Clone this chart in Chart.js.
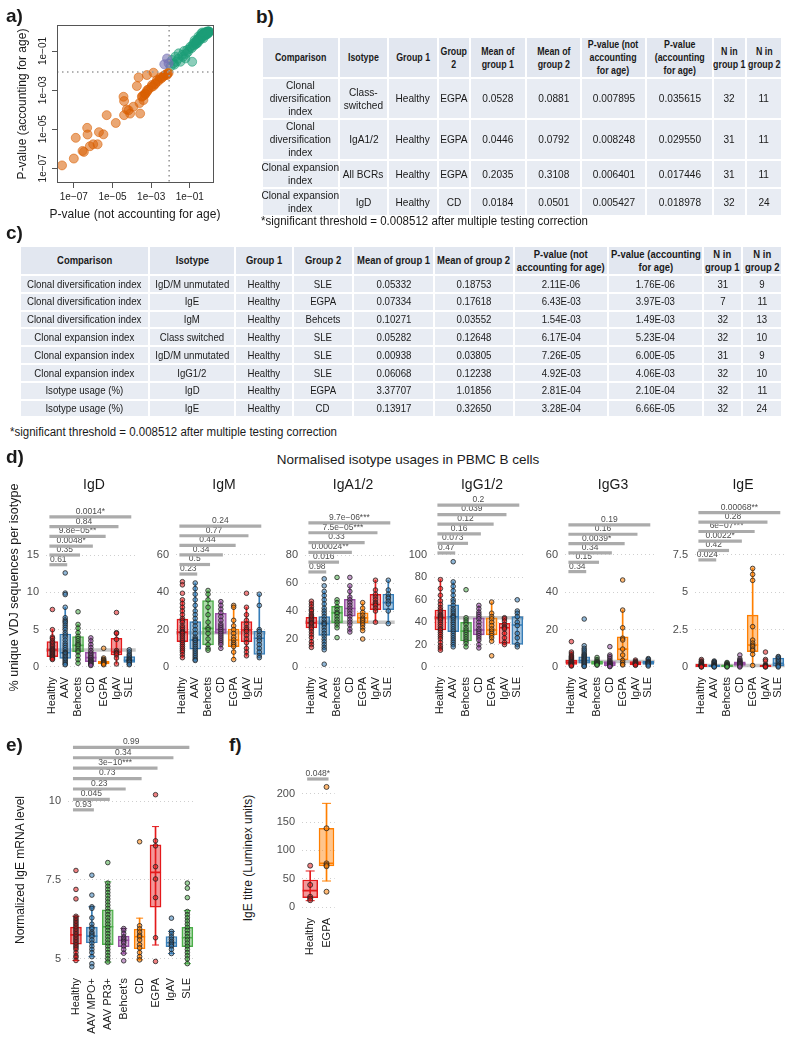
<!DOCTYPE html>
<html lang="en">
<head>
<meta charset="UTF-8">
<title>P-value comparison and isotype usage</title>
<script src="https://cdn.jsdelivr.net/npm/chart.js@4.4.1/dist/chart.umd.min.js"></script>
<style>
  body { margin: 0; background: #fff; }
  #page { position: relative; width: 800px; height: 1059px; overflow: hidden; font-family: "Liberation Sans", Arial, sans-serif; color: #1a1a1a; }
  #page canvas { position: absolute; }
  .lbl { position: absolute; white-space: nowrap; line-height: 1; }
  .panel { font-weight: bold; font-size: 19px; }
  .vt { position: absolute; white-space: nowrap; text-align: center; transform: rotate(-90deg); }
  table.t { position: absolute; border-collapse: collapse; table-layout: fixed; font-family: "Liberation Sans", Arial, sans-serif; color: #1a1a1a; }
  table.t th, table.t td { background: #e8ecf3; border: 2px solid #fff; padding: 0; text-align: center; font-weight: normal; overflow: visible; }
  table.t th { background: #e2e7f0; font-weight: bold; }
  .cell { display: flex; justify-content: center; align-items: center; width: 100%; }
  .cell span { display: block; white-space: pre; text-align: center; }
  .note { position: absolute; white-space: nowrap; font-size: 12.5px; transform: scaleX(0.92); transform-origin: 0 50%; }
</style>
</head>
<body>
<div id="page"></div>
<script>
// ---------- data: panel a (log10 of p-values) ----------
const orangeX = [-7.61,-7.0,-6.9,-6.55,-6.48,-6.31,-6.29,-6.17,-6.0,-5.77,-5.7,-5.47,-5.3,-4.83,-4.43,-4.4,-4.4,-4.26,-4.17,-4.09,-3.92,-3.74,-3.65,-3.6,-3.57,-3.48,-3.4,-3.36,-3.31,-3.22,-3.22,-3.14,-2.96,-2.88,-2.79,-2.7,-2.53,-2.36,-2.18,
  -3.45,-3.3,-3.2,-3.0,-2.9,-2.8,-2.65,-2.55,-2.45,-2.3,-2.25,-2.15,-2.1];
const orangeY = [-6.85,-6.5,-5.44,-6.11,-6.16,-4.93,-5.27,-5.87,-5.77,-5.77,-5.15,-5.26,-4.28,-4.68,-3.34,-3.56,-4.28,-3.99,-4.03,-4.2,-3.85,-2.79,-2.35,-3.66,-4.2,-3.34,-3.51,-3.26,-3.17,-3.09,-2.23,-2.97,-2.74,-2.11,-2.66,-2.49,-2.35,-2.28,-2.23,
  -3.3,-3.2,-3.0,-2.85,-2.8,-2.7,-2.55,-2.45,-2.38,-2.25,-2.2,-2.15,-2.12];
const purpleX = [-2.18,-2.32,-2.1];
const purpleY = [-1.38,-1.68,-1.63];
const greenX = [-2.0,-1.92,-1.84,-1.75,-1.7,-1.58,-1.49,-1.4,-1.35,-1.23,-1.14,-1.1,-1.02,-0.97,-0.88,-0.9,-0.85,-0.8,-0.78,-0.72,-0.7,-0.65,-0.62,-0.6,-0.56,-0.52,-0.5,-0.48,-0.45,-0.44,-0.4,-0.38,-0.35,-0.33,-0.3,-0.28,-0.27,-0.25,-0.22,-0.2,-0.18,-0.15,-0.13,-0.1,-0.08,-0.06,-0.04,-0.02,0,-0.3,-0.55,-0.4,-0.2,-0.12,-0.65,-0.75,-1.3,-1.2,-1.6,-1.8,-0.05,-0.02,-0.1,-0.35];
const greenY = [-1.8,-1.46,-1.63,-1.29,-1.55,-1.12,-1.55,-1.2,-1.3,-1.38,-0.95,-1.05,-0.9,-0.78,-1.55,-0.85,-0.7,-0.6,-0.72,-0.55,-0.65,-0.5,-0.44,-0.58,-0.4,-0.35,-0.45,-0.3,-0.26,-0.38,-0.22,-0.3,-0.18,-0.25,-0.12,-0.09,-0.2,-0.15,-0.08,-0.05,-0.12,-0.03,-0.07,0,-0.04,-0.02,0,-0.01,0,-0.35,-0.25,-0.1,-0.2,-0.15,-0.62,-0.45,-1.0,-1.15,-1.4,-1.7,-0.1,-0.05,-0.1,-0.05];
const pThreshold = 0.008512;
const aTicks = [1e-7, 1e-5, 1e-3, 1e-1];
const aTickLabels = ['1e\u221207', '1e\u221205', '1e\u221203', '1e\u221201'];

// ---------- data: tables ----------
const tableBHead = ['Comparison','Isotype','Group 1','Group\n2','Mean of\ngroup 1','Mean of\ngroup 2','P-value (not\naccounting\nfor age)','P-value\n(accounting\nfor age)','N in\ngroup 1','N in\ngroup 2'];
const tableBRows = [
  ['Clonal\ndiversification\nindex','Class-\nswitched','Healthy','EGPA','0.0528','0.0881','0.007895','0.035615','32','11'],
  ['Clonal\ndiversification\nindex','IgA1/2','Healthy','EGPA','0.0446','0.0792','0.008248','0.029550','31','11'],
  ['Clonal expansion\nindex','All BCRs','Healthy','EGPA','0.2035','0.3108','0.006401','0.017446','31','11'],
  ['Clonal expansion\nindex','IgD','Healthy','CD','0.0184','0.0501','0.005427','0.018978','32','24']
];
const tableCHead = ['Comparison','Isotype','Group 1','Group 2','Mean of group 1','Mean of group 2','P-value (not\naccounting for age)','P-value (accounting\nfor age)','N in\ngroup 1','N in\ngroup 2'];
const tableCRows = [
  ['Clonal diversification index','IgD/M unmutated','Healthy','SLE','0.05332','0.18753','2.11E-06','1.76E-06','31','9'],
  ['Clonal diversification index','IgE','Healthy','EGPA','0.07334','0.17618','6.43E-03','3.97E-03','7','11'],
  ['Clonal diversification index','IgM','Healthy','Behcets','0.10271','0.03552','1.54E-03','1.49E-03','32','13'],
  ['Clonal expansion index','Class switched','Healthy','SLE','0.05282','0.12648','6.17E-04','5.23E-04','32','10'],
  ['Clonal expansion index','IgD/M unmutated','Healthy','SLE','0.00938','0.03805','7.26E-05','6.00E-05','31','9'],
  ['Clonal expansion index','IgG1/2','Healthy','SLE','0.06068','0.12238','4.92E-03','4.06E-03','32','10'],
  ['Isotype usage (%)','IgD','Healthy','EGPA','3.37707','1.01856','2.81E-04','2.10E-04','32','11'],
  ['Isotype usage (%)','IgE','Healthy','CD','0.13917','0.32650','3.28E-04','6.66E-05','32','24']
];
const noteText = '*significant threshold = 0.008512 after multiple testing correction';

// ---------- data: panel d (stats = [whisker low, q1, median, q3, whisker high]) ----------
const isoGroups = ['Healthy','AAV','Behcets','CD','EGPA','IgAV','SLE'];
const isoTitles = ['IgD','IgM','IgA1/2','IgG1/2','IgG3','IgE'];
const isoRef = [2.27, 18.4, 32, 44, 2.9, 0.1];

const igdStats = [[1.0,1.38,2.27,3.39,5.0],[0.3,1.16,1.9,4.42,8.0],[0.5,2.06,2.9,4.06,5.7],[0.2,0.71,1.25,1.96,3.9],[0.3,0.4,0.6,0.8,1.2],[0.4,1.6,2.0,3.84,4.6],[0.2,0.6,0.9,1.38,2.3]];
const igdPoints = [
  [7.7,5.0,4.0,3.8,3.5,3.3,3.1,2.9,2.7,2.5,2.4,2.3,2.2,2.1,2.0,1.9,1.8,1.7,1.6,1.5,1.4,1.3,1.2,1.1,1.0],
  [12.6,9.9,9.7,8.0,6.6,6.3,6.1,5.9,5.6,5.3,5.0,4.6,4.3,4.0,3.6,3.2,2.9,2.6,2.3,2.0,1.9,1.8,1.6,1.4,1.2,1.0,0.8,0.6,0.4,0.3],
  [7.4,5.7,5.2,4.6,4.1,3.8,3.5,3.2,3.0,2.8,2.5,2.2,2.0,1.5,1.0,0.5],
  [3.9,3.5,3.0,2.6,2.2,1.9,1.7,1.5,1.3,1.2,1.0,0.9,0.8,0.7,0.6,0.5,0.4,0.3,0.2],
  [2.5,1.2,1.0,0.9,0.8,0.7,0.6,0.55,0.5,0.4,0.3],
  [7.3,4.6,4.5,3.7,2.2,2.0,1.9,1.8,1.6,1.2,0.4],
  [2.3,2.0,1.7,1.5,1.3,1.1,1.0,0.9,0.8,0.7,0.6,0.4,0.3]
];
const igdSig = ['0.61','0.35','0.0048*','9.8e\u221205**','0.84','0.0014*'];

const igmStats = [[5,13.6,18.6,25.7,36],[3.5,9.6,14.5,24.3,45],[9,11.8,20.7,35.6,41],[10,18,20,28.7,35],[4,10.9,14.5,20.3,33],[6,13.6,19.8,24.3,32],[5,6.8,15.4,19.3,39]];
const igmPoints = [
  [45.7,44,39.5,36,34,32,30,28,26,25,24,22,21,20,19,18.5,18,17,16,15,14,13,12,11,10,9,8,6.5,5],
  [45,42,39,36,33,30,28,26,24,22,20,18,16,15,14.5,14,13,12,11,10,9,8,7,6,5,4,3.5],
  [41,39,36,32,28,24,21,20,18,15,12,10,9],
  [35,33,31,29,27,25,23,22,21,20,19,18,17,16,15,14,13,12,10],
  [33,32,25,22,20,18,16,14.5,13,12,11,8,4],
  [39.5,32,28,25,23,21,20,19,17,15,13,10,8,6],
  [39,33,20,19,17,15.5,14,12,10,8,6,5]
];
const igmSig = ['0.23','0.5','0.34','0.44','0.77','0.24'];

const igaStats = [[16,27.9,31.5,35.5,47],[12.3,22.6,31,36,54],[28,31.5,38.7,43.4,48],[25,36.3,41.8,48.3,58],[26,31.5,35.1,38.7,46],[32,41,44.7,51.9,62],[31,41,46,52,62]];
const igaPoints = [
  [47,45,43,41,40,38,37,36,35,34,33,32,31.5,31,30,29,28,27,25,23,21,18,16,14],
  [63,58,54,51,48,45,42,40,38,36,34,32,31,30,28,26,24,22,20,18,16,14,12.3,2],
  [64,48,46,43,41,39,38,36,34,32,30,28,21],
  [64,58,54,50,48,46,44,42,40,38,36,34,32,30,27,25],
  [46,42,39,37,35,34,33,31.5,30,28,26,20],
  [62,55,52,50,48,46,45,44,42,40,32],
  [62,55,52,50,49,47,45,40,31]
];
const igaSig = ['0.98','0.016','0.00024**','0.33','7.5e\u221205***','9.7e\u221206***'];

const iggStats = [[15,33,44,50.9,78],[18,31.5,44.9,55.4,76],[18,23.2,32,39.9,44],[17,28.6,33,44,55],[23,28.6,33,44,58],[20,21,35,38.9,44],[18,20.2,37.5,45,50]];
const iggPoints = [
  [78,70,64,59,56,53,51,49,47,46,45,44,43,42,40,38,36,34,33,31,29,27,25,22,19,17,15],
  [94,76,72,68,64,60,58,55,52,50,48,46,45,44,42,40,38,36,34,32,30,28,26,24,22,20,18],
  [69,44,42,40,38,35,33,31,29,27,25,23,21,18],
  [55,52,49,47,45,43,40,37,34,32,30,28,26,24,20,17],
  [58,48,45,43,40,37,34,32,30,28,26,23,10],
  [44,43,41,38,36,35,34,30,26,22,20],
  [60,50,48,45,40,37,30,26,20,18]
];
const iggSig = ['0.47','0.073','0.16','0.12','0.039','0.2'];

const igg3Stats = [[0.5,1.43,2.5,3.75,8],[0.3,2,3.5,5.5,10],[1.0,1.4,2.1,3.2,5.1],[0.2,0.7,1.8,2.9,6.4],[1.1,3.75,9.6,16.2,30.5],[0.9,1.1,2,2.9,3.75],[0.5,1.4,2.3,3.2,4.6]];
const igg3Points = [
  [13.6,8,7,6,5.5,5,4.5,4,3.5,3,2.8,2.5,2.2,2,1.8,1.5,1.2,1,0.8,0.5],
  [25.7,11.4,10,9,8,7,6.5,6,5.5,5,4.5,4,3.5,3,2.5,2,1.5,1,0.5,0.3],
  [5.1,4,3.2,2.8,2.4,2.1,1.8,1.5,1.2,1.0],
  [10.9,6.4,5.5,4.5,3.5,2.9,2.4,2,1.8,1.5,1.2,0.9,0.7,0.4,0.2],
  [46.6,30.5,21,15.4,14.5,9.6,6.4,3.5,2.5,1.5,1.1],
  [3.7,3,2.5,2.2,2,1.8,1.5,1.2,0.9],
  [4.5,4,3.2,2.8,2.5,2.3,2,1.7,1.4,1,0.5]
];
const igg3Sig = ['0.34','0.15','0.34','0.0039*','0.16','0.19'];

const igeStats = [[0,0.02,0.1,0.2,0.4],[0,0.03,0.08,0.15,0.3],[0,0.03,0.08,0.15,0.3],[0,0.1,0.22,0.35,0.55],[0.1,1.03,1.47,3.48,6.6],[0,0.02,0.08,0.12,0.15],[0,0.07,0.25,0.6,0.7]];
const igePoints = [
  [0.5,0.4,0.35,0.3,0.25,0.2,0.18,0.15,0.12,0.1,0.1,0.08,0.06,0.05,0.03,0.02,0],
  [0.4,0.35,0.3,0.25,0.2,0.15,0.12,0.1,0.08,0.06,0.04,0.02,0],
  [0.3,0.25,0.2,0.15,0.12,0.1,0.08,0.05,0.03,0],
  [0.8,0.55,0.45,0.4,0.35,0.3,0.25,0.22,0.2,0.15,0.1,0.05,0],
  [6.6,6.2,5.8,2.7,1.8,1.6,1.45,1.35,1.2,1.1,0.85,0.1],
  [1.0,0.5,0.4,0.15,0.1,0.08,0.05,0.02,0],
  [0.7,0.65,0.55,0.45,0.35,0.25,0.15,0.1,0.05,0]
];
const igeSig = ['0.024','0.42','0.0022*','6e\u221207***','0.28','0.00068**'];

const isoTicks = [[0,5,10,15],[0,20,40,60],[0,20,40,60,80],[0,20,40,60,80,100],[0,20,40,60],[0,2.5,5,7.5]];
const isoTickLabels = [['0','5','10','15'],['0','20','40','60'],['0','20','40','60','80'],['0','20','40','60','80','100'],['0','20','40','60'],['0','2.5','5','7.5']];

// ---------- data: panel e ----------
const mrnaGroups = ['Healthy','AAV MPO+','AAV PR3+',"Behcet's",'CD','EGPA','IgAV','SLE'];
const mrnaStats = [[4.95,5.47,5.76,6.01,6.35],[5.07,5.51,5.72,6.01,6.65],[4.9,5.45,6.02,6.55,7.44],[5.18,5.39,5.59,5.72,5.96],[4.97,5.32,5.7,5.94,6.29],[5.44,6.64,7.74,8.61,9.19],[5.17,5.39,5.51,5.71,5.87],[4.85,5.39,5.67,6.0,6.53]];
const mrnaPoints = [
  [7.8,7.2,6.9,6.35,6.3,6.25,6.2,6.15,6.1,6.05,6.0,5.95,5.9,5.85,5.8,5.75,5.7,5.65,5.6,5.55,5.5,5.45,5.4,5.35,5.3,5.2,5.1,5.05,4.95],
  [7.65,7.02,6.65,6.6,6.3,6.1,6.0,5.95,5.85,5.8,5.75,5.7,5.6,5.5,5.4,5.3,5.2,5.07,4.85,4.75],
  [8.05,7.4,7.3,7.2,7.1,7.0,6.9,6.8,6.7,6.6,6.5,6.4,6.3,6.2,6.1,6.0,5.9,5.8,5.7,5.6,5.5,5.4,5.3,5.2,5.1,5.0,4.9],
  [5.96,5.9,5.8,5.7,5.65,5.6,5.55,5.5,5.4,5.3,5.18,4.94],
  [8.71,6.05,5.95,5.85,5.75,5.7,5.6,5.45,5.35,5.2,5.07,4.97],
  [10.2,8.74,8.58,7.92,7.53,6.94,5.67,4.92],
  [6.29,5.87,5.8,5.7,5.62,5.55,5.5,5.45,5.4,5.3,5.17],
  [7.4,7.24,6.94,6.5,6.4,6.3,6.2,6.1,6.0,5.9,5.8,5.7,5.6,5.5,5.4,5.3,5.2,5.1,5.0,4.85]
];
const mrnaSig = ['0.93','0.045','0.23','0.73','3e\u221210***','0.34','0.99'];
const mrnaTicks = [5, 7.5, 10];
const mrnaTickLabels = ['5', '7.5', '10'];

// ---------- data: panel f ----------
const titreGroups = ['Healthy','EGPA'];
const titreStats = [[11.2,16.5,28.9,47.7,63.6],[45.9,72.4,77.2,139,183]];
const titrePoints = [[73,39,18,15,12],[212,139,77,74,72,27]];
const titreSig = ['0.048*'];
const titreTicks = [0,50,100,150,200];
const titreTickLabels = ['0','50','100','150','200'];

// ---------- colours ----------
const set1 = ['#e41a1c','#377eb8','#4daf4a','#984ea3','#ff7f00'];
const dark2 = { orange: '217,95,2', purple: '117,112,179', green: '27,158,119' };

// ---------- helpers ----------
const page = document.getElementById('page');
const F = '"Liberation Sans", Arial, sans-serif';
Chart.defaults.font.family = F;

function rgba(hex, a) {
  const n = parseInt(hex.slice(1), 16);
  return `rgba(${n >> 16},${(n >> 8) & 255},${n & 255},${a})`;
}
function text(txt, left, top, size, cls) {
  const d = document.createElement('div');
  d.className = 'lbl ' + (cls || '');
  d.textContent = txt;
  d.style.left = left + 'px';
  d.style.top = top + 'px';
  if (size) d.style.fontSize = size + 'px';
  page.appendChild(d);
  return d;
}
function ctext(txt, cx, top, size) {
  const d = text(txt, cx - 200, top, size);
  d.style.width = '400px';
  d.style.textAlign = 'center';
}
function vtext(txt, cx, cy, size) {
  const d = document.createElement('div');
  d.className = 'vt';
  d.textContent = txt;
  d.style.fontSize = size + 'px';
  d.style.width = '320px';
  d.style.height = Math.round(size * 1.2) + 'px';
  d.style.lineHeight = Math.round(size * 1.2) + 'px';
  d.style.left = (cx - 160) + 'px';
  d.style.top = (cy - size * 0.6) + 'px';
  page.appendChild(d);
}
function note(left, top) {
  const d = document.createElement('div');
  d.className = 'note';
  d.textContent = noteText;
  d.style.left = left + 'px';
  d.style.top = top + 'px';
  page.appendChild(d);
}
// t: {left, top, widths, heights, fontSize, lineH, headSize, headScale, bodyScale}
function buildTable(head, rows, t) {
  const tb = document.createElement('table');
  tb.className = 't';
  tb.style.left = t.left + 'px';
  tb.style.top = t.top + 'px';
  tb.style.width = t.widths.reduce((a, b) => a + b, 0) + 'px';
  tb.style.fontSize = t.fontSize + 'px';
  tb.style.lineHeight = t.lineH + 'px';
  const cg = document.createElement('colgroup');
  t.widths.forEach(w => { const c = document.createElement('col'); c.style.width = w + 'px'; cg.appendChild(c); });
  tb.appendChild(cg);
  [head].concat(rows).forEach((r, ri) => {
    const tr = document.createElement('tr');
    tr.style.height = t.heights[ri] + 'px';
    r.forEach(s => {
      const c = document.createElement(ri === 0 ? 'th' : 'td');
      const box = document.createElement('div');
      box.className = 'cell';
      const sp = document.createElement('span');
      sp.textContent = s;
      sp.style.transform = 'scaleX(' + (ri === 0 ? t.headScale : t.bodyScale) + ')';
      if (ri === 0) sp.style.fontSize = t.headSize + 'px';
      box.appendChild(sp);
      c.appendChild(box);
      tr.appendChild(c);
    });
    tb.appendChild(tr);
  });
  page.appendChild(tb);
}
function makeCanvas(left, top, w, h) {
  const cv = document.createElement('canvas');
  cv.width = w; cv.height = h;
  cv.style.left = left + 'px'; cv.style.top = top + 'px';
  cv.style.width = w + 'px'; cv.style.height = h + 'px';
  page.appendChild(cv);
  return cv;
}

// reference line + significance bars, drawn from the chart scales
const boxExtras = {
  id: 'boxExtras',
  beforeDatasetsDraw(chart, args, opts) {
    if (opts.refValue === null || opts.refValue === undefined) return;
    const { ctx, chartArea: ar, scales: { y } } = chart;
    const py = y.getPixelForValue(opts.refValue);
    ctx.save();
    ctx.strokeStyle = 'rgba(180,180,180,0.75)';
    ctx.lineWidth = 3.5;
    ctx.beginPath(); ctx.moveTo(ar.left, py); ctx.lineTo(ar.right, py); ctx.stroke();
    ctx.restore();
  },
  afterDatasetsDraw(chart, args, opts) {
    if (!opts.sigLabels) return;
    const { ctx, scales: { x, y } } = chart;
    ctx.save();
    ctx.font = '8.5px ' + F;
    ctx.textAlign = 'center';
    ctx.textBaseline = 'bottom';
    opts.sigLabels.forEach((lab, i) => {
      const x0 = x.getPixelForValue(0) - 3;
      const x1 = x.getPixelForValue(i + 1) + 2;
      const py = y.getPixelForValue(opts.sigLevels[i]);
      ctx.strokeStyle = '#ababab';
      ctx.lineWidth = 3.2;
      ctx.beginPath(); ctx.moveTo(x0, py); ctx.lineTo(x1, py); ctx.stroke();
      ctx.fillStyle = '#4d4d4d';
      ctx.fillText(lab, (x0 + x1) / 2, py - 1.2);
    });
    ctx.restore();
  }
};

function boxPlot(o) {
  const w = o.yAxisW + o.areaW + o.padR;
  const h = o.padT + o.areaH + o.xAxisH;
  const cv = makeCanvas(o.areaLeft - o.yAxisW, o.top, w, h);
  const cols = o.labels.map((_, i) => o.colors[i % o.colors.length]);
  const datasets = [
    { type: 'bar', data: o.stats.map(s => [s[0], s[4]]), backgroundColor: cols, barThickness: 1, grouped: false, order: 6 },
    { type: 'bar', data: o.stats.map(s => [s[1], s[3]]), backgroundColor: cols.map(c => rgba(c, 0.45)),
      borderColor: cols, borderWidth: 0.8, borderSkipped: false, barThickness: o.boxW, grouped: false, order: 5 },
    { type: 'line', data: o.stats.map(s => s[2]), showLine: false, pointStyle: 'line', pointRadius: o.boxW / 2,
      pointBorderWidth: 1.6, pointBorderColor: cols, order: 4 }
  ];
  if (o.caps) {
    [0, 4].forEach(k => datasets.push({ type: 'line', data: o.stats.map(s => s[k]), showLine: false, pointStyle: 'line',
      pointRadius: o.capR, pointBorderWidth: 1, pointBorderColor: cols, order: 4 }));
  }
  o.points.forEach((vals, i) => datasets.push({
    type: 'line', showLine: false, order: 1,
    data: vals.map(v => ({ x: o.labels[i], y: v })),
    pointRadius: o.ptR, pointBackgroundColor: rgba(cols[i], 0.55), pointBorderColor: '#222', pointBorderWidth: 0.8
  }));
  new Chart(cv, {
    type: 'bar',
    data: { labels: o.labels, datasets },
    options: {
      responsive: false, animation: false, events: [],
      layout: { padding: { top: o.padT, right: o.padR, left: 0, bottom: 0 } },
      plugins: { legend: { display: false }, tooltip: { enabled: false },
        boxExtras: { refValue: o.ref, sigLabels: o.sig, sigLevels: o.sigY } },
      scales: {
        x: { type: 'category', offset: true, grid: { display: false, drawTicks: false }, border: { display: false },
          ticks: { autoSkip: false, minRotation: 90, maxRotation: 90, padding: 3, color: '#1a1a1a', font: { size: 11 } },
          afterFit: s => { s.height = o.xAxisH; } },
        y: { min: o.min, max: o.max,
          grid: { color: '#cfcfcf', lineWidth: 1, drawTicks: false }, border: { display: false, dash: [1, 3] },
          afterBuildTicks: s => { s.ticks = o.ticks.map(v => ({ value: v })); },
          ticks: { padding: 7, color: '#4d4d4d', font: { size: 11 }, callback: (v, i) => o.tickLabels[i] },
          afterFit: s => { s.width = o.yAxisW; } }
      }
    },
    plugins: [boxExtras]
  });
}

// ---------- panel a ----------
const panelA = {
  id: 'panelA',
  afterDatasetsDraw(chart) {
    const { ctx, chartArea: ar, scales: { x, y } } = chart;
    ctx.save();
    ctx.strokeStyle = '#9a9a9a'; ctx.lineWidth = 1.6; ctx.setLineDash([1.5, 3.5]);
    const tx = x.getPixelForValue(pThreshold), ty = y.getPixelForValue(pThreshold);
    ctx.beginPath(); ctx.moveTo(tx, ar.top); ctx.lineTo(tx, ar.bottom); ctx.stroke();
    ctx.beginPath(); ctx.moveTo(ar.left, ty); ctx.lineTo(ar.right, ty); ctx.stroke();
    ctx.setLineDash([]);
    ctx.strokeStyle = '#555'; ctx.lineWidth = 1;
    ctx.strokeRect(ar.left + 0.5, ar.top + 0.5, ar.right - ar.left - 1, ar.bottom - ar.top - 1);
    ctx.fillStyle = '#222'; ctx.font = '10px ' + F; ctx.textAlign = 'center'; ctx.textBaseline = 'middle';
    aTicks.forEach((v, i) => {
      ctx.save();
      ctx.translate(ar.left - 14, y.getPixelForValue(v));
      ctx.rotate(-Math.PI / 2);
      ctx.fillText(aTickLabels[i], 0, 0);
      ctx.restore();
    });
    ctx.restore();
  }
};
function pts(xs, ys) { return xs.map((v, i) => ({ x: Math.pow(10, v), y: Math.pow(10, ys[i]) })); }
const cvA = makeCanvas(0, 0, 230, 225);
new Chart(cvA, {
  type: 'scatter',
  data: { datasets: [
    { data: pts(orangeX, orangeY), backgroundColor: `rgba(${dark2.orange},0.55)`, borderColor: `rgba(${dark2.orange},0.7)`, borderWidth: 0.8, pointRadius: 4.5 },
    { data: pts(purpleX, purpleY), backgroundColor: `rgba(${dark2.purple},0.6)`, borderColor: `rgba(${dark2.purple},0.75)`, borderWidth: 0.8, pointRadius: 4.5 },
    { data: pts(greenX, greenY), backgroundColor: `rgba(${dark2.green},0.5)`, borderColor: `rgba(${dark2.green},0.7)`, borderWidth: 0.8, pointRadius: 4.5 }
  ] },
  options: {
    responsive: false, animation: false, events: [],
    layout: { padding: { top: 25, right: 16, left: 0, bottom: 0 } },
    plugins: { legend: { display: false }, tooltip: { enabled: false } },
    scales: {
      x: { type: 'logarithmic', min: Math.pow(10, -7.87), max: Math.pow(10, 0.25),
        afterBuildTicks: s => { s.ticks = aTicks.map(v => ({ value: v })); },
        ticks: { callback: (v, i) => aTickLabels[i], color: '#222', font: { size: 10 }, padding: 3, maxRotation: 0, autoSkip: false },
        grid: { drawOnChartArea: false, drawTicks: true, tickLength: 5, color: '#555' }, border: { display: false },
        afterFit: s => { s.height = 42; } },
      y: { type: 'logarithmic', min: Math.pow(10, -7.75), max: Math.pow(10, 0.33),
        afterBuildTicks: s => { s.ticks = aTicks.map(v => ({ value: v })); },
        ticks: { display: false },
        grid: { drawOnChartArea: false, drawTicks: true, tickLength: 5, color: '#555' }, border: { display: false },
        afterFit: s => { s.width = 57; } }
    }
  },
  plugins: [panelA]
});
vtext('P-value (accounting for age)', 22, 104, 12);
ctext('P-value (not accounting for age)', 135, 208, 12);

// ---------- tables ----------
buildTable(tableBHead, tableBRows, { left: 261, top: 36, widths: [77,49,50,32,56,55,65,67,33,36], heights: [38,40,40,27,26],
  fontSize: 11, lineH: 13, headSize: 10.5, headScale: 0.84, bodyScale: 0.92 });
note(261, 214);
buildTable(tableCHead, tableCRows, { left: 19, top: 245, widths: [129,86,58,60,81,80,94,95,39,40], heights: [29,17.8,17.8,17.8,17.8,17.8,17.8,17.8,17.8],
  fontSize: 10.5, lineH: 12.5, headSize: 10.5, headScale: 0.9, bodyScale: 0.92 });
note(10, 425);

// ---------- panel labels / titles ----------
text('a)', 6, 6, null, 'panel');
text('b)', 256, 7, null, 'panel');
text('c)', 6, 223, null, 'panel');
text('d)', 6, 447, null, 'panel');
text('e)', 6, 735, null, 'panel');
text('f)', 229, 735, null, 'panel');
ctext('Normalised isotype usages in PBMC B cells', 408, 453, 13.5);
vtext('% unique VDJ sequences per isotype', 14, 587, 12.5);
vtext('Normalized IgE mRNA level', 20, 870, 12);
vtext('IgE titre (Luminex units)', 248, 858, 12);

// ---------- panel d layout ----------
const dAreaLeft = [46, 176, 305, 434, 565, 695];
const dMin = [-0.94, -3.75, -5, -6.25, -3.75, -0.469];
const dMax = [22.37, 89.46, 119.3, 149.1, 89.46, 11.18];
const dSigY = [
  [13.7, 15.0, 16.2, 17.5, 18.8, 20.1],
  [49.8, 54.9, 60.1, 65.2, 70.3, 75.5],
  [67.9, 74.9, 81.9, 88.9, 95.9, 102.9],
  [101.8, 110.4, 118.9, 127.5, 136.1, 144.6],
  [51.1, 56.1, 61.1, 66.1, 71.1, 76.1],
  [7.17, 7.8, 8.43, 9.07, 9.7, 10.33]
];
const dStats = [igdStats, igmStats, igaStats, iggStats, igg3Stats, igeStats];
const dPoints = [igdPoints, igmPoints, igaPoints, iggPoints, igg3Points, igePoints];
const dSig = [igdSig, igmSig, igaSig, iggSig, igg3Sig, igeSig];
isoTitles.forEach((t, k) => {
  ctext(t, dAreaLeft[k] + 48, 477, 14);
  boxPlot({
    labels: isoGroups, colors: set1, stats: dStats[k], points: dPoints[k],
    ref: isoRef[k], sig: dSig[k], sigY: dSigY[k],
    ticks: isoTicks[k], tickLabels: isoTickLabels[k], min: dMin[k], max: dMax[k],
    areaLeft: dAreaLeft[k], top: 480, yAxisW: 40, areaW: 96, padR: 4, padT: 20, areaH: 174, xAxisH: 60,
    boxW: 11, ptR: 2.3, caps: false
  });
});

// ---------- panel e ----------
boxPlot({
  labels: mrnaGroups, colors: set1, stats: mrnaStats, points: mrnaPoints,
  ref: null, sig: mrnaSig, sigY: [9.72, 10.05, 10.38, 10.71, 11.04, 11.37, 11.70],
  ticks: mrnaTicks, tickLabels: mrnaTickLabels, min: 4.49, max: 12.09,
  areaLeft: 68, top: 720, yAxisW: 48, areaW: 132, padR: 4, padT: 15, areaH: 240, xAxisH: 82,
  boxW: 11, ptR: 2.3, caps: true, capR: 3.5
});

// ---------- panel f ----------
boxPlot({
  labels: titreGroups, colors: [set1[0], set1[4]], stats: titreStats, points: titrePoints,
  ref: null, sig: titreSig, sigY: [226],
  ticks: titreTicks, tickLabels: titreTickLabels, min: -14.1, max: 256,
  areaLeft: 302, top: 745, yAxisW: 40, areaW: 39, padR: 4, padT: 17, areaH: 153, xAxisH: 60,
  boxW: 15, ptR: 2.5, caps: true, capR: 4.5
});
</script>
</body>
</html>
